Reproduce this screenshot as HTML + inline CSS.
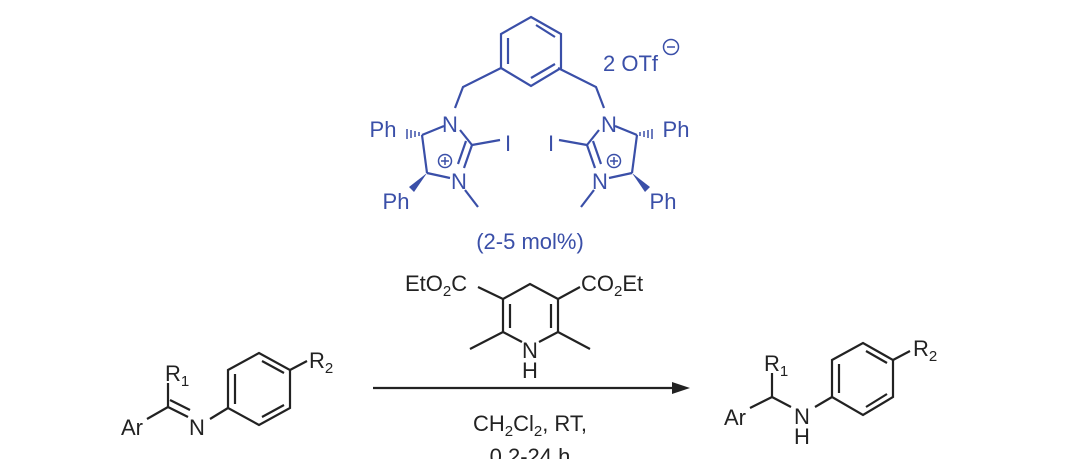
<!DOCTYPE html>
<html><head><meta charset="utf-8"><style>
html,body{margin:0;padding:0;background:#fff;}
svg{display:block;}
text{font-family:"Liberation Sans",Arial,sans-serif;font-size:22px;}
</style></head><body>
<svg width="1080" height="476" viewBox="0 0 1080 476" xmlns="http://www.w3.org/2000/svg">
<defs>
<g id="half" stroke="#3a4fa8" stroke-width="2.2" fill="none">
  <polyline points="501,68 463,87 455,108"/>
  <line x1="460" y1="130" x2="472" y2="145"/>
  <line x1="472" y1="145" x2="500" y2="140"/>
  <line x1="472" y1="145" x2="464" y2="168"/>
  <line x1="466" y1="141" x2="458" y2="164"/>
  <line x1="450" y1="178" x2="427" y2="173"/>
  <line x1="427" y1="173" x2="422" y2="135"/>
  <line x1="444" y1="126" x2="422" y2="135"/>
  <line x1="465" y1="190" x2="478" y2="207"/>
  <circle cx="445" cy="161" r="6.5" stroke-width="1.5"/>
  <line x1="441" y1="161" x2="449" y2="161" stroke-width="1.5"/>
  <line x1="445" y1="157" x2="445" y2="165" stroke-width="1.5"/>
  <g stroke-width="1.5">
    <line x1="419" y1="132" x2="419" y2="136"/>
    <line x1="415" y1="131" x2="415" y2="137"/>
    <line x1="411" y1="130" x2="411" y2="138"/>
    <line x1="407" y1="129" x2="407" y2="139"/>
  </g>
  <polygon points="427,173 409,187 414,192" fill="#3a4fa8" stroke="none"/>
</g>
</defs>

<g stroke="#3a4fa8" stroke-width="2.2" fill="none">
  <polygon points="531,17 561,34 561,68 531,86 501,68 501,34"/>
  <line x1="536" y1="25" x2="555" y2="37"/>
  <line x1="555" y1="64" x2="531" y2="78"/>
  <line x1="508" y1="38" x2="508" y2="64"/>
</g>
<use href="#half"/>
<use href="#half" transform="translate(1059,0) scale(-1,1)"/>
<g fill="#3a4fa8">
  <text x="450" y="132" text-anchor="middle">N</text>
  <text x="459" y="189" text-anchor="middle">N</text>
  <text x="508" y="151" text-anchor="middle">I</text>
  <text x="383" y="137" text-anchor="middle">Ph</text>
  <text x="396" y="209" text-anchor="middle">Ph</text>
  <text x="609" y="132" text-anchor="middle">N</text>
  <text x="600" y="189" text-anchor="middle">N</text>
  <text x="551" y="151" text-anchor="middle">I</text>
  <text x="676" y="137" text-anchor="middle">Ph</text>
  <text x="663" y="209" text-anchor="middle">Ph</text>
  <text x="603" y="71">2 OTf</text>
  <text x="530" y="249" text-anchor="middle">(2-5 mol%)</text>
</g>
<g stroke="#3a4fa8" stroke-width="1.5" fill="none">
  <circle cx="671" cy="47" r="7.5"/>
  <line x1="667" y1="47" x2="675" y2="47"/>
</g>

<g stroke="#222" stroke-width="2.2" fill="none">
  <polyline points="478,287 503,299 530,284 558,299 580,287"/>
  <line x1="503" y1="299" x2="503" y2="332"/>
  <line x1="510" y1="304" x2="510" y2="328"/>
  <line x1="558" y1="299" x2="558" y2="332"/>
  <line x1="551" y1="304" x2="551" y2="328"/>
  <polyline points="470,349 503,332 522,342"/>
  <polyline points="590,349 558,332 539,342"/>
</g>
<g fill="#222">
  <text x="405" y="291">EtO<tspan font-size="15" dy="5">2</tspan><tspan dy="-5">C</tspan></text>
  <text x="581" y="291">CO<tspan font-size="15" dy="5">2</tspan><tspan dy="-5">Et</tspan></text>
  <text x="530" y="358" text-anchor="middle">N</text>
  <text x="530" y="378" text-anchor="middle">H</text>
  <text x="530" y="431" text-anchor="middle">CH<tspan font-size="15" dy="5">2</tspan><tspan dy="-5">Cl</tspan><tspan font-size="15" dy="5">2</tspan><tspan dy="-5">, RT,</tspan></text>
  <text x="530" y="464" text-anchor="middle">0.2-24 h</text>
</g>
<rect x="400" y="459" width="260" height="20" fill="#fff"/>

<line x1="373" y1="388" x2="676" y2="388" stroke="#222" stroke-width="2.2"/>
<polygon points="690,388 672,382 672,394" fill="#222"/>

<g stroke="#222" stroke-width="2.2" fill="none">
  <line x1="147" y1="419" x2="168" y2="407"/>
  <line x1="168" y1="407" x2="168" y2="383"/>
  <line x1="168" y1="407" x2="188" y2="417"/>
  <line x1="170" y1="400" x2="190" y2="410"/>
  <line x1="210" y1="419" x2="228" y2="408"/>
  <polygon points="228,370 259,353 290,370 290,408 259,425 228,408"/>
  <line x1="235" y1="374" x2="235" y2="404"/>
  <line x1="262" y1="361" x2="284" y2="373"/>
  <line x1="284" y1="405" x2="262" y2="417"/>
  <line x1="290" y1="370" x2="307" y2="361"/>
</g>
<g fill="#222">
  <text x="132" y="435" text-anchor="middle">Ar</text>
  <text x="165" y="381">R<tspan font-size="15" dy="5">1</tspan></text>
  <text x="197" y="435" text-anchor="middle">N</text>
  <text x="309" y="368">R<tspan font-size="15" dy="5">2</tspan></text>
</g>

<g stroke="#222" stroke-width="2.2" fill="none">
  <line x1="750" y1="408" x2="772" y2="397"/>
  <line x1="772" y1="397" x2="772" y2="373"/>
  <line x1="772" y1="397" x2="791" y2="407"/>
  <line x1="815" y1="407" x2="832" y2="397"/>
  <polygon points="832,360 863,343 893,360 893,397 863,415 832,397"/>
  <line x1="839" y1="364" x2="839" y2="393"/>
  <line x1="866" y1="351" x2="887" y2="363"/>
  <line x1="887" y1="394" x2="866" y2="407"/>
  <line x1="893" y1="360" x2="910" y2="351"/>
</g>
<g fill="#222">
  <text x="735" y="425" text-anchor="middle">Ar</text>
  <text x="764" y="371">R<tspan font-size="15" dy="5">1</tspan></text>
  <text x="802" y="424" text-anchor="middle">N</text>
  <text x="802" y="444" text-anchor="middle">H</text>
  <text x="913" y="356">R<tspan font-size="15" dy="5">2</tspan></text>
</g>
</svg>
</body></html>
